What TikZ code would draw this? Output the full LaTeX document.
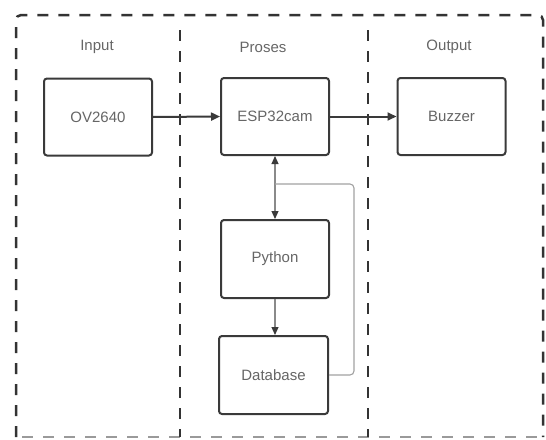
\documentclass[tikz,border=0pt]{standalone}
\usepackage{fontspec}
\setmainfont{Liberation Sans}
\usetikzlibrary{arrows.meta}
\definecolor{boxline}{HTML}{3A3A3A}
\definecolor{txt}{HTML}{666666}
\definecolor{thin}{HTML}{8A8A8A}
\definecolor{dashc}{HTML}{333333}
\definecolor{dashlight}{HTML}{9A9A9A}
\tikzset{
  blockbox/.style={draw=boxline, line width=2pt, rounded corners=3pt, fill=white,
    minimum width=108pt, minimum height=77pt, inner sep=0pt, text=txt,
    font=\fontsize{15}{18}\selectfont},
  lanelabel/.style={text=txt, font=\fontsize{15}{18}\selectfont, inner sep=0pt},
  lanedash/.style={draw=dashc, line width=2.5pt, dash pattern=on 11pt off 10pt},
  mainarrow/.style={draw=boxline, line width=2pt, -{Triangle[length=9pt,width=8pt]}},
  thintip/.style={Triangle[length=8pt,width=7pt,color=boxline]},
  thinarrow/.style={draw=thin, line width=1.1pt, {Triangle[length=8pt,width=7pt,color=boxline]}-{Triangle[length=8pt,width=7pt,color=boxline]}},
  onearrow/.style={draw=thin, line width=1.1pt, -{Triangle[length=8pt,width=7pt,color=boxline]}},
  feedline/.style={draw=thin!80, line width=1.1pt, rounded corners=4pt}
}
\begin{document}
\begin{tikzpicture}[x=1pt,y=-1pt]
\useasboundingbox (0,0) rectangle (546,439);
% outer dashed frame
\draw[lanedash, rounded corners=5pt] (16,437) -- (16,15) -- (543,15) -- (543,437);
\draw[lanedash, draw=dashlight, line width=2pt] (22,437) -- (540,437);
% lane dividers
\draw[lanedash] (180,30) -- (180,437);
\draw[lanedash] (368,30) -- (368,437);
% lane labels
\node[lanelabel] (lin) at (97,47) {Input};
\node[lanelabel] (lpr) at (263,47) {Proses};
\node[lanelabel] (lout) at (449,47) {Output};
% blocks
\node[blockbox] (ov) at (98,117) {OV2640};
\node[blockbox] (esp) at (275,116.5) {ESP32cam};
\node[blockbox] (buz) at (451.5,116.5) {Buzzer};
\node[blockbox, minimum height=78pt] (py) at (275,259) {Python};
\node[blockbox, minimum width=109pt, minimum height=78pt] (db) at (273.5,375) {Database};
% connectors
\draw[mainarrow] (ov.east) -- (esp.west);
\draw[mainarrow] (esp.east) -- (buz.west);
\draw[thinarrow] (esp.south) -- (py.north);
\draw[onearrow] (py.south) -- (py.south |- db.north);
\coordinate (jn) at (275,184);
\coordinate (fb) at (354,375);
\draw[feedline] (db.east) -- (fb) |- (jn);
\end{tikzpicture}
\end{document}
